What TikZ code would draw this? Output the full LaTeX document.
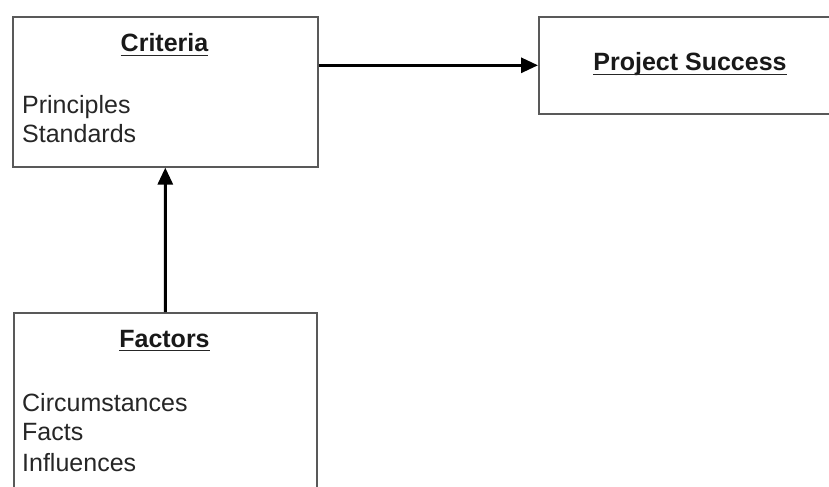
\documentclass[tikz,border=0pt]{standalone}
\usepackage{fontspec}
\setmainfont{Liberation Sans}
\usetikzlibrary{arrows.meta}
\begin{document}
\begin{tikzpicture}[x=1bp,y=-1bp,
  box/.style={draw=black!65, line width=1.6bp, fill=white, anchor=north west, inner sep=0pt},
  title/.style={font=\fontsize{25bp}{30bp}\selectfont\bfseries, text=black!90, inner sep=0pt, anchor=base},
  item/.style={font=\fontsize{25bp}{30bp}\selectfont, text=black!85, inner sep=0pt, anchor=base west},
  uline/.style={line width=1.8bp, black!85},
  arr/.style={line width=3bp, -{Triangle[length=17bp,width=15bp]}}]
\useasboundingbox (0,0) rectangle (829,487);
% boxes
\node[box, minimum width=305bp, minimum height=150bp] (crit) at (12,16) {};
\node[box, minimum width=310bp, minimum height=97bp] (ps) at (538,16) {};
\node[box, minimum width=303bp, minimum height=200bp] (fac) at (13,312) {};
% titles
\node[title] (tcrit) at (164.5,52) {Criteria};
\node[title] (tps) at (690,71) {Project Success};
\node[title] (tfac) at (164.5,347) {Factors};
\draw[uline] ([yshift=-3.5bp]tcrit.base west) -- ([yshift=-3.5bp]tcrit.base east);
\draw[uline] ([yshift=-3.5bp]tps.base west) -- ([yshift=-3.5bp]tps.base east);
\draw[uline] ([yshift=-3.5bp]tfac.base west) -- ([yshift=-3.5bp]tfac.base east);
% items
\node[item] (p1) at (22,114) {Principles};
\node[item] (p2) at (22,143) {Standards};
\node[item] (f1) at (22,411) {Circumstances};
\node[item] (f2) at (22,440) {Facts};
\node[item] (f3) at (22,471) {Influences};
% arrows
\draw[arr] (crit.east |- ps.west) -- (ps.west);
\draw[arr] (fac.north) -- (crit.south);
\end{tikzpicture}
\end{document}
